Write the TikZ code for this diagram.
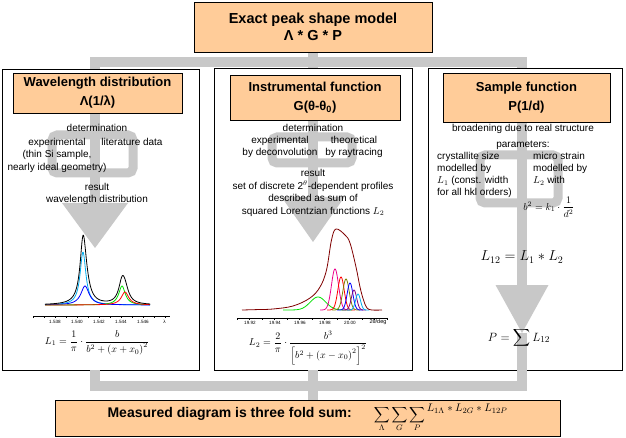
\documentclass[tikz,border=0pt]{standalone}
\usepackage{fontspec}
\setmainfont{Liberation Sans}
\usepackage{amsmath}
\usepackage{tikz}
\usetikzlibrary{
  arrows.meta,
  positioning,
  calc
}
\definecolor{PeakPeach}{HTML}{FFCC99}
\definecolor{LinkGrey}{HTML}{C8C8C8}
\definecolor{CurveBrown}{HTML}{800000}
\definecolor{CurveOlive}{HTML}{808000}
\definecolor{CurvePurple}{HTML}{800080}
\definecolor{CurveGreen}{HTML}{00E000}
\pgfdeclarelayer{panels}
\pgfdeclarelayer{links}
\pgfsetlayers{panels,links,main}
\tikzset{
  % Heading box: peach fill, bold text
  head/.style={
    rectangle, draw=black, fill=PeakPeach, line width=0.8pt,
    inner sep=0pt, align=center,
    font=\bfseries\fontsize{13}{19}\selectfont
  },
  % Column panel
  panel/.style={rectangle, draw=black, fill=white, line width=0.8pt, inner sep=0pt},
  % Grey connector
  link/.style={draw=LinkGrey, line width=10pt},
  % Grey connector ending in a wide triangle
  drop/.style n args={2}{
    draw=LinkGrey, line width=10pt,
    -{Triangle[width=#1, length=#2, line width=0pt]}
  },
  % Grey loop round two alternatives
  fork/.style={rectangle, rounded corners=5pt, draw=LinkGrey, line width=9pt, inner sep=0pt},
  % Body text
  txt/.style={font=\fontsize{10}{12.5}\selectfont, align=center, inner sep=0pt},
  % Formula
  eq/.style={font=\fontsize{#1}{#1}\selectfont, inner sep=0pt},
  % Tiny axis label
  ticklbl/.style={font=\fontsize{4.6}{5}\selectfont, inner sep=0pt},
  % Plot curve
  crv/.style={line width=0.8pt, draw=#1}
}

\begin{document}
\begin{tikzpicture}[x=1pt, y=-1pt, node distance=4pt]
  \useasboundingbox (0,0) rectangle (626,438);

  % Panels
  \begin{pgfonlayer}{panels}
    \node[panel, minimum width=197pt, minimum height=301pt] (wavepanel)   at (100.5,219.5) {};
    \node[panel, minimum width=198pt, minimum height=302pt] (instpanel)   at (313,219) {};
    \node[panel, minimum width=194pt, minimum height=302pt] (samplepanel) at (525,219) {};
  \end{pgfonlayer}

  % Heading boxes
  \node[head, minimum width=238pt, minimum height=50pt,
        font=\bfseries\fontsize{14.5}{17}\selectfont] (model) at (313,27)
        {Exact peak shape model\\Λ * G * P};
  \node[head, minimum width=169pt, minimum height=40pt] (wavebox)   at (97.5,93)  {Wavelength distribution\\Λ(1/λ)};
  \node[head, minimum width=170pt, minimum height=45pt] (instbox)   at (315,97.5) {Instrumental function\\G(θ-θ\textsubscript{0})};
  \node[head, minimum width=167pt, minimum height=49pt] (samplebox) at (526.5,97.5) {Sample function\\P(1/d)};
  \node[head, minimum width=505pt, minimum height=36pt,
        font=\bfseries\fontsize{14}{17}\selectfont] (sumbox) at (307.5,418)
        {Measured diagram is three fold sum:\hspace{22pt}{\mdseries\fontsize{11}{13}\selectfont
         $\displaystyle\sum_{\Lambda}\sum_{G}\sum_{P}\raisebox{6pt}{$L_{1\Lambda}*L_{2G}*L_{12P}$}$}};

  % Grey routes
  \coordinate (wavetip)   at (95,248);
  \coordinate (insttip)   at (313,242);
  \coordinate (sampletip) at (522,333);
  \coordinate (topjoin)   at (313,62);
  \coordinate (sumjoin)   at (313,386);

  \begin{pgfonlayer}{links}
    \draw[link] (model) -- (topjoin);
    \draw[link] (wavepanel.north -| wavetip) |- (topjoin) -| (samplepanel.north -| sampletip);
    \draw[link] (topjoin) -- (instpanel.north);

    \node[fork, minimum width=81pt, minimum height=38pt] (wavefork)   at (92.5,154) {};
    \node[fork, minimum width=80pt, minimum height=26pt] (instfork)   at (312,150)  {};
    \node[fork, minimum width=78pt, minimum height=48pt] (samplefork) at (519,179)  {};

    \draw[drop={66pt}{45pt}] (wavebox.south -| wavetip) -- (wavetip);
    \draw[drop={63pt}{45pt}] (instbox.south -| insttip) -- (insttip);
    \draw[drop={53pt}{48pt}] (samplebox.south -| sampletip) -- (sampletip);

    \draw[link] (wavepanel.south -| wavetip) |- (sumjoin);
    \draw[link] (sampletip) |- (sumjoin);
    \draw[link] (instpanel.south) -- (sumbox.north -| instpanel.south);
  \end{pgfonlayer}

  % Wavelength column
  \node[txt] (wavedet) at (97,128) {determination};
  \node[txt] (waveexp) at (57,155) {experimental\\(thin Si sample,\\nearly ideal geometry)};
  \node[txt] (wavelit) at (132,142) {literature data};
  \node[txt] (waveres) at (97,187) {result};
  \node[txt, below=12pt of waveres.base, anchor=base] (waveout) {wavelength distribution};

  \draw[line width=0.6pt] (33,316) -- (170,316);
  \foreach \t in {0,...,12}
    \draw[line width=0.5pt] ({33+11*\t},316) -- ++(0,1.5);
  \foreach \xv/\lb in {55/1.538, 77/1.540, 99/1.542, 121/1.544, 143/1.546, 165/λ\,/\,Å}
    \node[ticklbl] (wavetick\xv) at (\xv,321.5) {\lb};

  \draw[crv=cyan]       plot[domain=45:150, samples=160] (\x, {305-53/(1+(\x-83)*(\x-83)/12.25)});
  \draw[crv=blue]       plot[domain=45:150, samples=160] (\x, {305-19/(1+(\x-85)*(\x-85)/25)});
  \draw[crv=CurveGreen] plot[domain=45:150, samples=160] (\x, {305-19/(1+(\x-122)*(\x-122)/16)});
  \draw[crv=red]        plot[domain=45:150, samples=160] (\x, {305-13/(1+(\x-125)*(\x-125)/20)});
  \draw[crv=black]      plot[domain=45:150, samples=200] (\x, {305-53/(1+(\x-83)*(\x-83)/12.25)
                          -19/(1+(\x-85)*(\x-85)/25)-19/(1+(\x-122)*(\x-122)/16)-13/(1+(\x-125)*(\x-125)/20)});

  \node[eq=10] (waveeq) at (97,343)
    {$L_1=\dfrac{1}{\pi}\cdot\dfrac{b}{b^2+\left(x+x_0\right)^2}$};

  % Instrumental column
  \node[txt] (instdet) at (313,128) {determination};
  \node[txt] (instexp) at (280,147) {experimental\\by deconvolution};
  \node[txt] (instthe) at (354,147) {theoretical\\by raytracing};
  \node[txt] (instres) at (313,193)
    {result\\set of discrete 2$^\theta$-dependent profiles\\described as sum of\\squared Lorentzian functions $L_2$};

  \draw[line width=0.6pt] (237,318) -- (387,318);
  \foreach \t in {0,...,12}
    \draw[line width=0.5pt] ({237+12.5*\t},318) -- ++(0,1.5);
  \foreach \xv/\lb in {250/19.92, 275/19.94, 300/19.96, 325/19.98, 350/20.00}
    \node[ticklbl] (insttick\xv) at (\xv,322.5) {\lb};
  \node[ticklbl, font=\fontsize{5.5}{6}\selectfont] (insttickend) at (378,322.5) {2θ/deg};

  \draw[crv=CurveGreen]  plot[domain=283:352, samples=80] (\x, {310-13*exp(-(\x-318)*(\x-318)/121)});
  \draw[crv=magenta]     plot[domain=320:350, samples=60] (\x, {310-41*exp(-(\x-335)*(\x-335)/25)});
  \draw[crv=red]         plot[domain=327:355, samples=60] (\x, {310-33*exp(-(\x-341)*(\x-341)/20)});
  \draw[crv=CurveOlive]  plot[domain=332:360, samples=60] (\x, {310-31*exp(-(\x-346)*(\x-346)/20)});
  \draw[crv=blue]        plot[domain=337:363, samples=60] (\x, {310-27*exp(-(\x-350)*(\x-350)/16)});
  \draw[crv=CurvePurple] plot[domain=342:366, samples=60] (\x, {310-20*exp(-(\x-354)*(\x-354)/14)});
  \draw[crv=cyan]        plot[domain=347:369, samples=60] (\x, {310-16*exp(-(\x-358)*(\x-358)/12)});
  \draw[crv=CurveBrown]  plot[smooth, tension=0.6] coordinates {
      (242,310) (260,309.5) (273,309) (293,306) (310,298) (320,287) (326.5,270)
      (331.5,240) (336,229) (345,235) (350,243) (356,267) (360,287) (363.5,300)
      (367,308) (372,310) (382,310)};

  \node[eq=10] (insteq) at (308,348)
    {$L_2=\dfrac{2}{\pi}\cdot\dfrac{b^3}{\left[b^2+\left(x-x_0\right)^2\right]^2}$};

  % Sample column
  \node[txt] (samplebroad) at (523,129) {broadening due to real structure};
  \node[txt] (samplepar)   at (523,145) {parameters:};
  \node[txt, align=left, anchor=west, font=\fontsize{10}{12}\selectfont] (samplesize) at (437,175)
    {crystallite size\\modelled by\\$L_1$ (const. width\\for all hkl orders)};
  \node[txt, align=left, anchor=west, font=\fontsize{10}{12}\selectfont] (samplestrain) at (533,169)
    {micro strain\\modelled by\\$L_2$ with};
  \node[eq=10] (samplerule) at (549,207) {$b^2=k_1\cdot\dfrac{1}{d^2}$};
  \node[eq=14] (sampleconv) at (522,257) {$L_{12}=L_1*L_2$};
  \node[eq=13] (samplesum)  at (519,338) {$P=\displaystyle\sum L_{12}$};

\end{tikzpicture}
\end{document}
